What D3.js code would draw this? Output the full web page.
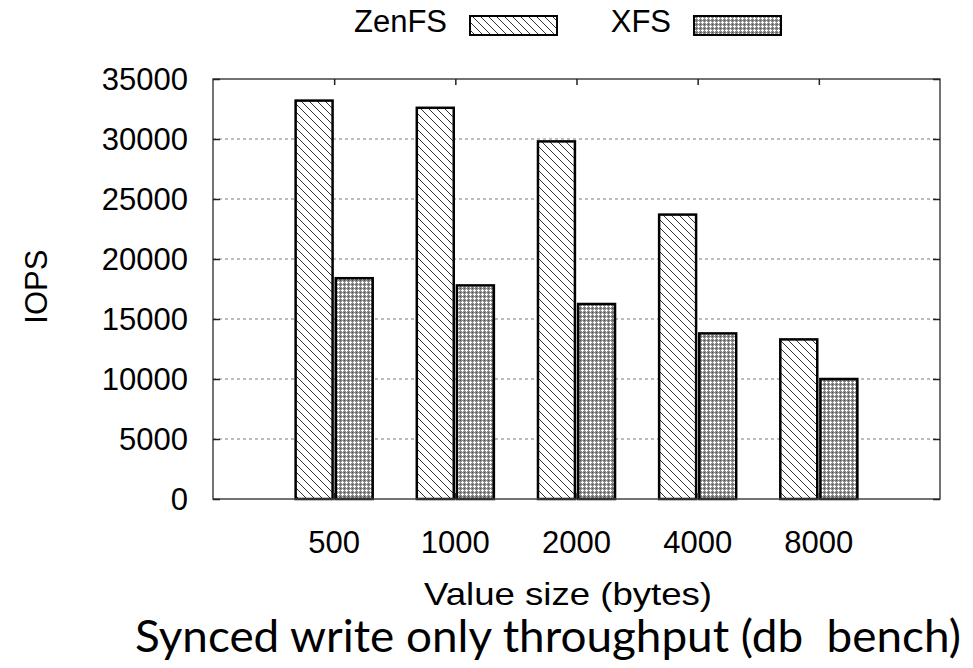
<!DOCTYPE html>
<html>
<head>
<meta charset="utf-8">
<script src="https://cdn.jsdelivr.net/npm/d3@7"></script>
<style>
  body { margin: 0; background: #fff; }
  svg { display: block; }
</style>
</head>
<body>
<div id="chart"></div>
<script>
// Synced write only throughput chart

var categories = ["500", "1000", "2000", "4000", "8000"];
var seriesNames = ["ZenFS", "XFS"];
var zenfsValues = [33200, 32600, 29800, 23700, 13300];
var xfsValues = [18400, 17800, 16250, 13800, 10000];
var yTicks = [0, 5000, 10000, 15000, 20000, 25000, 30000, 35000];

var width = 973,
    height = 668,
    margin = {top: 79, right: 33, bottom: 169, left: 213},	//plot frame
    font = "'Liberation Sans', Arial, Helvetica, sans-serif";

var svg = d3.select("#chart").append("svg")
    .attr("width", width)
    .attr("height", height);

//Scales: categories sit at 0..4, frame spans -1..5
var x = d3.scaleLinear().domain([-1, categories.length]).range([margin.left, width - margin.right]);
var y = d3.scaleLinear().domain([0, 35000]).range([height - margin.bottom, margin.top]);
var step = x(1) - x(0);
var barW = step * 0.305, gap = step * 0.013;

//Fill patterns
var defs = svg.append("defs");
var hatch = defs.append("pattern").attr("id", "hatch")
    .attr("patternUnits", "userSpaceOnUse").attr("width", 8).attr("height", 8);
hatch.append("rect").attr("width", 8).attr("height", 8).attr("fill", "#fff");
hatch.append("path").attr("d", "M-2,-2 L10,10 M-2,6 L2,10 M6,-2 L10,2")
    .attr("stroke", "#333").attr("stroke-width", 1);

var dots = defs.append("pattern").attr("id", "dots")
    .attr("patternUnits", "userSpaceOnUse").attr("width", 4).attr("height", 4);
dots.append("rect").attr("width", 4).attr("height", 4).attr("fill", "#8a8a8a");
dots.append("rect").attr("x", 2).attr("y", 1).attr("width", 1).attr("height", 3).attr("fill", "#fff");
dots.append("rect").attr("x", 1).attr("y", 2).attr("width", 3).attr("height", 1).attr("fill", "#fff");
dots.append("rect").attr("x", 0).attr("y", 0).attr("width", 1).attr("height", 1).attr("fill", "#555");

var fills = ["url(#hatch)", "url(#dots)"];

//Grid lines
svg.append("g").selectAll("line")
    .data(yTicks.slice(1, -1))
    .enter().append("line")
    .attr("x1", x.range()[0]).attr("x2", x.range()[1])
    .attr("y1", function(d){ return y(d); }).attr("y2", function(d){ return y(d); })
    .attr("stroke", "#a8a8a8").attr("stroke-width", 1.5)
    .attr("stroke-dasharray", "3,3");

//Bars
var series = [zenfsValues, xfsValues];
series.forEach(function(vals, s) {
  svg.append("g").selectAll("rect")
    .data(vals)
    .enter().append("rect")
    .attr("x", function(d, i){ return s === 0 ? x(i) - gap - barW : x(i) + gap; })
    .attr("y", function(d){ return y(d); })
    .attr("width", barW)
    .attr("height", function(d){ return y(0) - y(d); })
    .attr("fill", fills[s])
    .attr("stroke", "#000")
    .attr("stroke-width", 2.5);
});

//Frame
svg.append("rect")
    .attr("x", x.range()[0]).attr("y", y.range()[1])
    .attr("width", x.range()[1] - x.range()[0])
    .attr("height", y.range()[0] - y.range()[1])
    .attr("fill", "none").attr("stroke", "#444").attr("stroke-width", 1.5);

//Y axis (ticks inward on both sides)
var yAxis = svg.append("g")
    .attr("transform", "translate(" + x.range()[0] + ",0)")
    .call(d3.axisRight(y).tickValues(yTicks).tickSize(7).tickFormat(""));
var yAxisR = svg.append("g")
    .attr("transform", "translate(" + x.range()[1] + ",0)")
    .call(d3.axisLeft(y).tickValues(yTicks).tickSize(7).tickFormat(""));
var xAxisTop = svg.append("g")
    .attr("transform", "translate(0," + y.range()[1] + ")")
    .call(d3.axisBottom(x).tickValues(d3.range(categories.length)).tickSize(6).tickFormat(""));
var xAxisBot = svg.append("g")
    .attr("transform", "translate(0," + y.range()[0] + ")")
    .call(d3.axisTop(x).tickValues(d3.range(categories.length)).tickSize(6).tickFormat(""));
[yAxis, yAxisR, xAxisTop, xAxisBot].forEach(function(a) {
  a.select(".domain").remove();
  a.selectAll("line").attr("stroke", "#222").attr("stroke-width", 1.5);
});

//Tick labels
svg.append("g").selectAll("text")
    .data(yTicks)
    .enter().append("text")
    .attr("x", 188)
    .attr("y", function(d){ return y(d); })
    .attr("dy", "0.36em")
    .attr("text-anchor", "end")
    .style("font-family", font).style("font-size", "31px")
    .text(function(d){ return d; });

svg.append("g").selectAll("text")
    .data(categories)
    .enter().append("text")
    .attr("x", function(d, i){ return x(i); })
    .attr("y", 553)
    .attr("text-anchor", "middle")
    .style("font-family", font).style("font-size", "31px")
    .text(function(d){ return d; });

//Axis titles
svg.append("text")
    .attr("transform", "translate(47," + y(17700) + ") rotate(-90)")
    .attr("text-anchor", "middle")
    .style("font-family", font).style("font-size", "31px")
    .text("IOPS");

svg.append("text")
    .attr("x", 568).attr("y", 605)
    .attr("text-anchor", "middle")
    .attr("textLength", 288).attr("lengthAdjust", "spacingAndGlyphs")
    .style("font-family", font).style("font-size", "32px")
    .text("Value size (bytes)");

svg.append("text")
    .attr("x", 548).attr("y", 652)
    .attr("text-anchor", "middle")
    .attr("textLength", 826).attr("lengthAdjust", "spacingAndGlyphs")
    .style("font-family", "Lato, 'Open Sans', sans-serif").style("font-size", "45px")
    .style("white-space", "pre")
    .text("Synced write only throughput (db  bench)");

//Legend
var legend = svg.append("g").selectAll("g")
    .data(seriesNames)
    .enter().append("g")
    .attr("transform", function(d, i){ return "translate(" + (i * 224) + ",0)"; });
legend.append("text")
    .attr("x", 447).attr("y", 32)
    .attr("text-anchor", "end")
    .style("font-family", font).style("font-size", "31px")
    .text(function(d){ return d; });
legend.append("rect")
    .attr("x", 470).attr("y", 16)
    .attr("width", 87).attr("height", 19)
    .attr("fill", function(d, i){ return fills[i]; })
    .attr("stroke", "#000").attr("stroke-width", 2);
</script>
</body>
</html>
